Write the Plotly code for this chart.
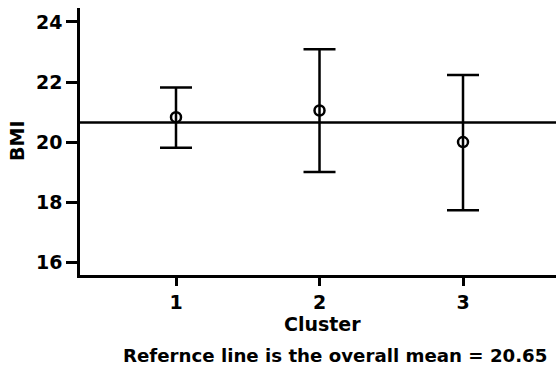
import plotly.graph_objects as go

clusters = [1, 2, 3]
bmi_mean = [20.83, 21.05, 20.00]
ci_upper = [21.82, 23.09, 22.23]
ci_lower = [19.81, 19.00, 17.73]
overall_mean = 20.65
y_ticks = [16, 18, 20, 22, 24]
x_ticks = [1, 2, 3]

err_plus = [u - m for u, m in zip(ci_upper, bmi_mean)]
err_minus = [m - l for m, l in zip(bmi_mean, ci_lower)]

FONT = "DejaVu Sans"
W, H = 556, 370
ML, MR, MT, MB = 80, 0, 8, 94.5
PH = H - MT - MB
PW = W - ML - MR

fig = go.Figure()
fig.add_trace(go.Scatter(
    x=clusters, y=bmi_mean, mode="markers",
    marker=dict(symbol="circle-open", size=10, color="black", line=dict(width=2.5, color="black")),
    error_y=dict(type="data", symmetric=False, array=err_plus, arrayminus=err_minus,
                 color="black", thickness=2.5, width=16),
    showlegend=False, hoverinfo="skip",
))
fig.add_shape(type="line", xref="paper", x0=0, x1=1, yref="y", y0=overall_mean, y1=overall_mean,
              line=dict(color="black", width=2.5), layer="below")

tf = dict(family=FONT, size=19, color="black", weight="bold")

fig.update_layout(
    width=W, height=H,
    margin=dict(l=ML, r=MR, t=MT, b=MB, pad=0, autoexpand=False),
    paper_bgcolor="white", plot_bgcolor="white",
    font=tf,
    xaxis=dict(range=[0.331, 3.648], tickmode="array", tickvals=x_ticks,
               ticktext=[str(v) for v in x_ticks], automargin=False,
               showline=True, linecolor="black", linewidth=2.5, mirror=False,
               ticks="outside", ticklen=8, tickwidth=2.5, tickcolor="black",
               showgrid=False, zeroline=False, tickfont=tf),
    yaxis=dict(range=[15.572, 24.465], tickmode="array", tickvals=y_ticks,
               automargin=False,
               showline=True, linecolor="black", linewidth=2.5,
               ticks="outside", ticklen=11, tickwidth=2.5, tickcolor="black",
               showgrid=False, zeroline=False, tickfont=tf),
)

fig.add_annotation(text="BMI", xref="paper", yref="paper", x=(16.5 - ML) / PW, y=0.5,
                   xanchor="center", yanchor="middle", textangle=-90, showarrow=False, font=tf)
fig.add_annotation(text="Cluster", xref="x", yref="paper", x=2.02, y=(H - MB - 325) / PH,
                   xanchor="center", yanchor="middle", showarrow=False, font=tf)
fig.add_annotation(text=f"Refernce line is the overall mean = {overall_mean:.2f}",
                   xref="paper", yref="paper", x=(335 - ML) / PW, y=(H - MB - 356) / PH,
                   xanchor="center", yanchor="middle", showarrow=False,
                   font=dict(family=FONT, size=18.2, color="black", weight="bold"))

fig.write_html("out.html", config={"displayModeBar": False},
               post_script="document.body.style.margin='0';document.body.style.overflow='hidden';")
